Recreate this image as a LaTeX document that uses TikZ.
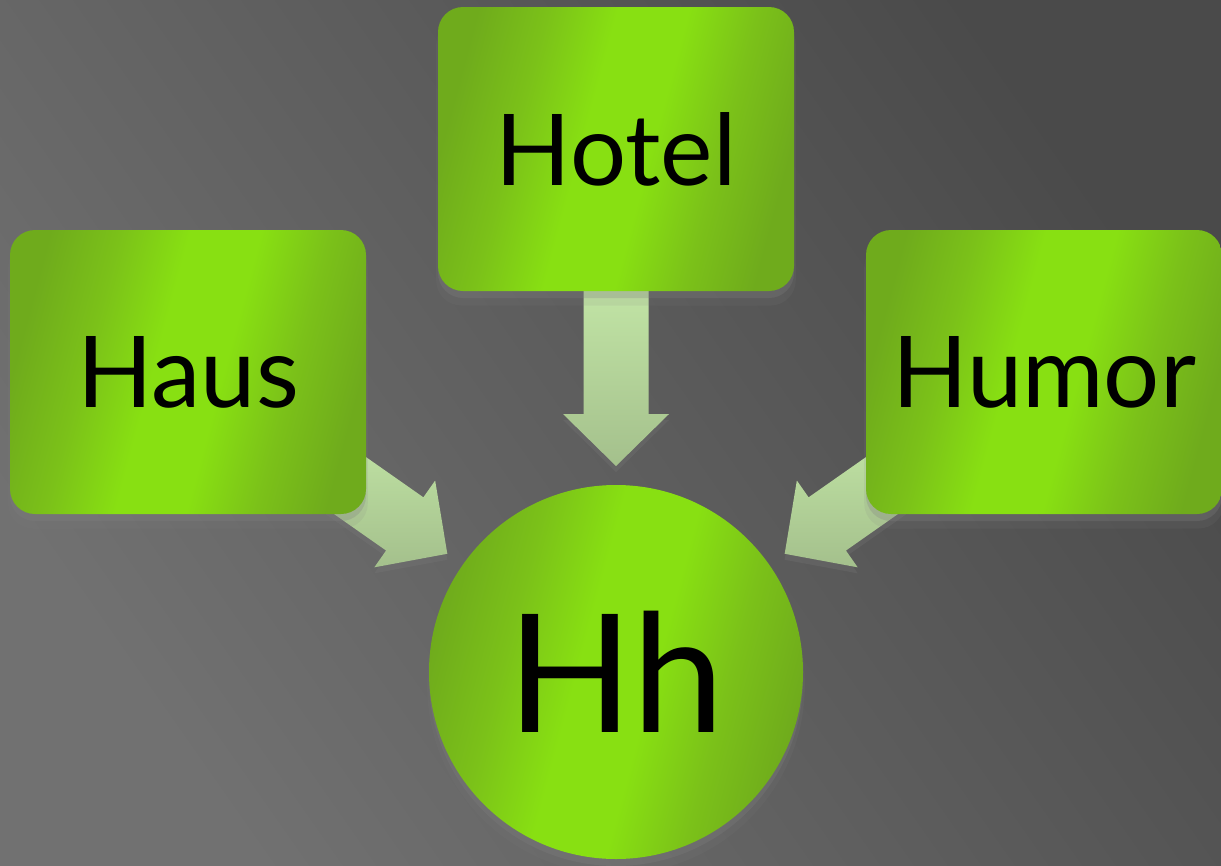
\documentclass[tikz,border=0pt]{standalone}
\usepackage{fontspec}
\setmainfont{Lato}
\usetikzlibrary{calc,shadows}

\definecolor{limebright}{HTML}{88E012}
\definecolor{limemid}{HTML}{7BC119}
\definecolor{limedark}{HTML}{6FAB1C}
\definecolor{arrowtop}{HTML}{C6EAA9}
\definecolor{arrowbot}{HTML}{A4C08C}
\definecolor{bglight}{HTML}{717171}
\definecolor{bgdark}{HTML}{4A4A4A}

\pgfdeclarehorizontalshading{limeband}{100bp}{color(0bp)=(limedark);
    color(25bp)=(limedark); color(35bp)=(limemid); color(45bp)=(limebright);
    color(55bp)=(limebright); color(65bp)=(limemid); color(75bp)=(limedark);
    color(100bp)=(limedark)}

\pgfdeclarelayer{bg}
\pgfdeclarelayer{arrows}
\pgfsetlayers{bg,arrows,main}

\begin{document}
\begin{tikzpicture}[
        limeshade/.style={shading=limeband, shading angle=-15},
        soft shadow/.style={
            drop shadow={shadow xshift=0pt, shadow yshift=-1.3mm,
                shadow scale=1.01, opacity=0.12},
            drop shadow={shadow xshift=0pt, shadow yshift=-0.7mm,
                opacity=0.28}},
        box/.style={rounded corners=2.5mm, minimum width=3.56cm,
            minimum height=2.84cm, inner sep=0pt, limeshade, soft shadow,
            font=\fontsize{28.2}{34}\selectfont},
        hub/.style={circle, minimum size=3.74cm, inner sep=0pt, limeshade,
            soft shadow, font=\fontsize{46.9}{56}\selectfont},
        blockarrow/.style={top color=arrowtop, bottom color=arrowbot,
            drop shadow={shadow xshift=0pt, shadow yshift=-0.6mm,
                opacity=0.22}}]
    \useasboundingbox (0,0) rectangle (12.21,8.65);
    \begin{pgfonlayer}{bg}
        \shade[top color=bgdark, bottom color=bglight, shading angle=-55]
            (0,0) rectangle (12.21,8.65);
    \end{pgfonlayer}

    \node[box] (hotel) at (6.16,7.16) {Hotel};
    \node[box] (haus)  at (1.88,4.93) {Haus};
    \node[box] (humor) at (10.44,4.93) {Humor};
    \node[hub] (hh)    at (6.16,1.93) {Hh};

    % block arrows into the circle
    \begin{pgfonlayer}{arrows}
    \foreach \src in {haus,hotel,humor}{
        \coordinate (tip)  at ($(hh.center)!2.06cm!(\src.center)$);
        \coordinate (base) at ($(tip)!0.52cm!(\src.center)$);
        \coordinate (tail) at ($(\src.center)!0.35!(tip)$);
        \path[blockarrow] ($(tail)!0.325cm!90:(tip)$)
            -- ($(base)!0.325cm!-90:(tail)$)
            -- ($(base)!0.53cm!-90:(tail)$)
            -- (tip)
            -- ($(base)!0.53cm!90:(tail)$)
            -- ($(base)!0.325cm!90:(tail)$)
            -- ($(tail)!0.325cm!-90:(tip)$) -- cycle;
    }
    \end{pgfonlayer}
\end{tikzpicture}
\end{document}
